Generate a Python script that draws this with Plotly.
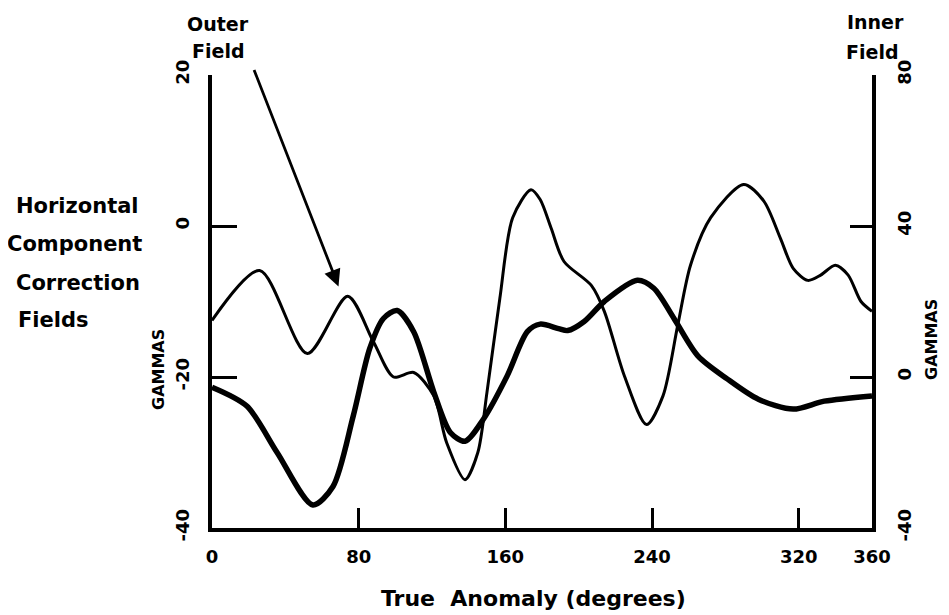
import plotly.graph_objects as go

# Outer field (thin line, left axis, gammas)
outer_deg = [0, 26, 52, 74, 88, 99, 110, 121, 128, 138, 145, 150, 157, 164, 174, 179, 185, 192,
             207, 214, 225, 237, 246, 254, 261, 272, 290, 301, 310, 317, 325, 332, 340, 347, 354, 360]
outer_val = [-12.5, -5.9, -16.9, -9.3, -15.3, -20, -19.4, -22.5, -28.7, -33.6, -30, -22, -9.6, 1.1,
             4.8, 3.5, -0.3, -4.7, -7.9, -11.3, -19.9, -26.3, -22.5, -13.2, -5.2, 1.1, 5.5, 3.3,
             -1.6, -5.6, -7.2, -6.5, -5.2, -6.5, -10, -11.3]

# Inner field (thick line, right axis, gammas)
inner_deg = [0, 19, 35.5, 55, 66, 77, 86, 93.5, 101, 110, 121, 130, 138, 148, 161, 172, 179, 189,
             194, 203, 214, 232, 241, 252, 265, 281, 298, 317, 334, 360]
inner_val = [-2.7, -7.7, -20, -33.9, -29, -10.4, 7.5, 15.5, 17.6, 12, -4, -14.7, -17, -11.2, 0.3,
             12, 14, 12.8, 12.3, 14.7, 20, 25.6, 23.5, 15.5, 5.6, -0.5, -5.9, -8.5, -6.4, -5]

x_ticks = [0, 80, 160, 240, 320, 360]
left_ticks = [-40, -20, 0, 20]
right_ticks = [-40, 0, 40, 80]

FONT = "DejaVu Sans"
OFF = 8  # page body margin
W, H = 949 - OFF, 615 - OFF
L, R, T, B = 212 - OFF, 949 - 872, 75 - OFF, 615 - 528
PW, PH = W - L - R, H - T - B


def px(xp):
    return (xp - OFF - L) / PW


def py(yp):
    return (H - B - (yp - OFF)) / PH


fig = go.Figure()
fig.add_trace(go.Scatter(x=outer_deg, y=outer_val, mode="lines", name="Outer Field",
                         line=dict(color="black", width=3, shape="spline", smoothing=0.8),
                         yaxis="y"))
fig.add_trace(go.Scatter(x=inner_deg, y=inner_val, mode="lines", name="Inner Field",
                         line=dict(color="black", width=5.5, shape="spline", smoothing=0.8),
                         yaxis="y2"))

tickfont = dict(family=FONT, size=18, color="black", weight="bold")

fig.update_layout(
    width=W, height=H,
    margin=dict(l=L, r=R, t=T, b=B),
    paper_bgcolor="white", plot_bgcolor="white",
    showlegend=False,
    font=dict(family=FONT, color="black"),
    xaxis=dict(range=[0, 360], tickvals=x_ticks, ticktext=[str(v) for v in x_ticks],
               ticks="inside", ticklen=20, tickwidth=2.5, tickcolor="black",
               showline=True, linewidth=3.5, linecolor="black",
               showgrid=False, zeroline=False, tickfont=tickfont, ticklabelstandoff=10),
    yaxis=dict(range=[-40, 20], tickvals=left_ticks, ticktext=[str(v) for v in left_ticks],
               ticks="inside", ticklen=25, tickwidth=3, tickcolor="black",
               showline=True, linewidth=3.5, linecolor="black", tickangle=-90,
               showgrid=False, zeroline=False, tickfont=tickfont, ticklabelstandoff=12),
    yaxis2=dict(range=[-40, 80], tickvals=right_ticks, ticktext=[str(v) for v in right_ticks],
                overlaying="y", side="right",
                ticks="inside", ticklen=22, tickwidth=3, tickcolor="black",
                showline=True, linewidth=3.5, linecolor="black", tickangle=-90,
                showgrid=False, zeroline=False, tickfont=tickfont, ticklabelstandoff=14),
)

ann = []


def label(text, xp, yp, angle=0, size=16, anchor="center"):
    ann.append(dict(text=text, x=px(xp), y=py(yp), xref="paper", yref="paper",
                    showarrow=False, textangle=angle, xanchor=anchor, yanchor="middle",
                    font=dict(family=FONT, size=size, color="black", weight="bold")))


label("Outer", 218, 24, size=19)
label("Field", 218, 51, size=19)
label("Inner", 875, 22, size=19)
label("Field", 872, 52, size=19)
label("Horizontal", 14, 206, size=21, anchor="left")
label("Component", 5, 244, size=21, anchor="left")
label("Correction", 14, 283, size=21, anchor="left")
label("Fields", 16, 320, size=21, anchor="left")
label("GAMMAS", 158, 370, angle=-90, size=16)
label("GAMMAS", 931, 340, angle=-90, size=16)
label("True\u00a0\u00a0Anomaly (degrees)", 533, 598, size=22)

# arrow from "Outer Field" label to the thin curve
ann.append(dict(x=69, y=-8, xref="x", yref="y", text="", showarrow=True,
                ax=-85, ay=-218, axref="pixel", ayref="pixel",
                arrowhead=2, arrowsize=1.2, arrowwidth=2.8, arrowcolor="black"))

fig.update_layout(annotations=ann)
fig.write_html("out.html")
